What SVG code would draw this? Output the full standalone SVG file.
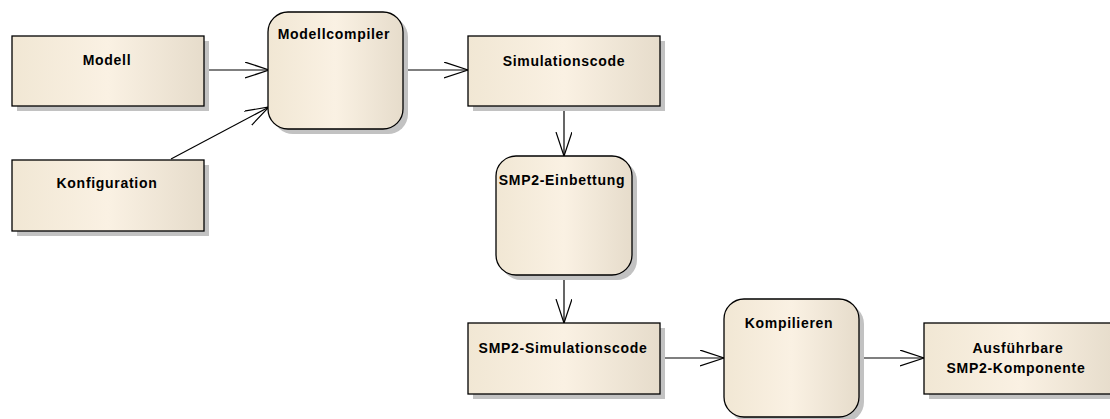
<svg xmlns="http://www.w3.org/2000/svg" width="1110" height="419" viewBox="0 0 1110 419">
  <style>
    .body { stroke: #000; stroke-width: 1.3; fill: url(#fillGrad); }
    .shadow { fill: #c2c2c2; stroke: none; }
    .label { font-family: "Liberation Sans", Arial, sans-serif; font-weight: bold; font-size: 14px; fill: #000; text-anchor: middle; letter-spacing: 0.7px; }
    .edge { stroke: #000; stroke-width: 1.2; fill: none; marker-end: url(#openArrow); }
  </style>
  <defs>
    <linearGradient id="fillGrad" x1="0" y1="0" x2="1" y2="0">
      <stop offset="0" stop-color="#f1e7d4"/>
      <stop offset="0.5" stop-color="#faf1e3"/>
      <stop offset="1" stop-color="#e6dccb"/>
    </linearGradient>
    <marker id="openArrow" markerUnits="userSpaceOnUse" markerWidth="26" markerHeight="18" refX="24" refY="8" orient="auto">
      <path d="M0,0 L24,8 L0,16" fill="none" stroke="#000" stroke-width="1.2"/>
    </marker>
  </defs>

  <rect width="1110" height="419" fill="#fff"/>

  <!-- connectors -->
  <g id="connectors">
    <line class="edge" x1="204" y1="70" x2="269" y2="70"/>
    <line class="edge" x1="171" y1="159" x2="269" y2="107"/>
    <line class="edge" x1="404" y1="70" x2="468" y2="70"/>
    <line class="edge" x1="564" y1="106" x2="564" y2="156"/>
    <line class="edge" x1="564" y1="275" x2="564" y2="323"/>
    <line class="edge" x1="660" y1="358" x2="724" y2="358"/>
    <line class="edge" x1="859" y1="358" x2="924" y2="358"/>
  </g>

  <g id="modell">
    <rect class="shadow" x="17" y="41" width="192" height="70"/>
    <rect class="body" x="12" y="36" width="192" height="70"/>
    <text class="label" x="107" y="65">Modell</text>
  </g>

  <g id="konfiguration">
    <rect class="shadow" x="17" y="165" width="192" height="71"/>
    <rect class="body" x="12" y="160" width="192" height="71"/>
    <text class="label" x="107" y="188">Konfiguration</text>
  </g>

  <g id="modellcompiler">
    <rect class="shadow" x="273" y="17" width="135" height="117" rx="20" ry="20"/>
    <rect class="body" x="268" y="12" width="135" height="117" rx="20" ry="20"/>
    <text class="label" x="334" y="39">Modellcompiler</text>
  </g>

  <g id="simulationscode">
    <rect class="shadow" x="473" y="41" width="192" height="70"/>
    <rect class="body" x="468" y="36" width="192" height="70"/>
    <text class="label" x="564" y="66">Simulationscode</text>
  </g>

  <g id="smp2-einbettung">
    <rect class="shadow" x="501" y="161" width="136" height="119" rx="20" ry="20"/>
    <rect class="body" x="496" y="156" width="136" height="119" rx="20" ry="20"/>
    <text class="label" x="562" y="185">SMP2-Einbettung</text>
  </g>

  <g id="smp2-simulationscode">
    <rect class="shadow" x="473" y="328" width="192" height="71"/>
    <rect class="body" x="468" y="323" width="192" height="71"/>
    <text class="label" x="563" y="353">SMP2-Simulationscode</text>
  </g>

  <g id="kompilieren">
    <rect class="shadow" x="729" y="304" width="135" height="118" rx="20" ry="20"/>
    <rect class="body" x="724" y="299" width="135" height="118" rx="20" ry="20"/>
    <text class="label" x="789" y="328">Kompilieren</text>
  </g>

  <g id="ausfuehrbare-komponente">
    <rect class="shadow" x="929" y="328" width="192" height="71"/>
    <rect class="body" x="924" y="323" width="192" height="71"/>
    <text class="label" x="1018" y="353">Ausführbare</text>
    <text class="label" x="1016" y="373">SMP2-Komponente</text>
  </g>
</svg>
